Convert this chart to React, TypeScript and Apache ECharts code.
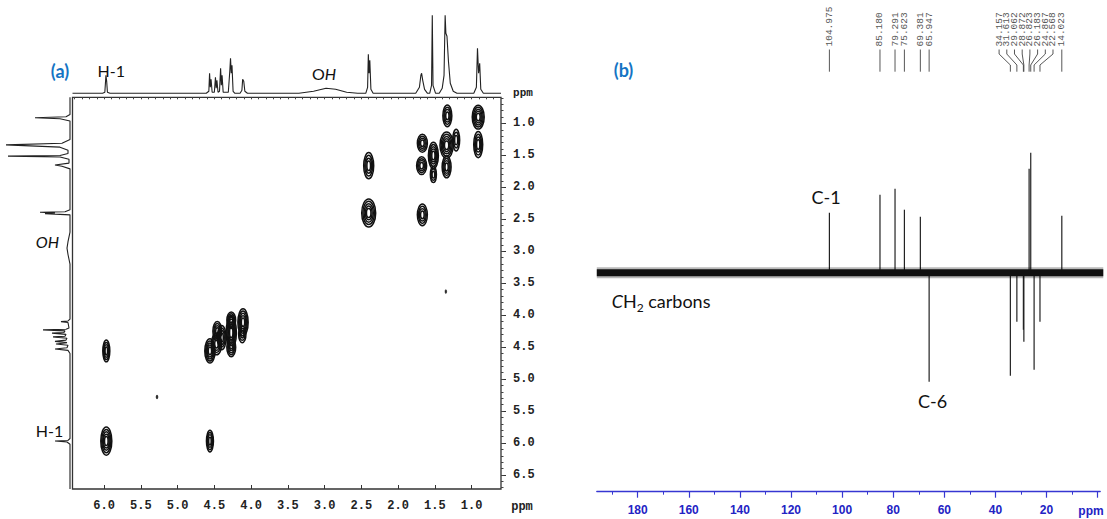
import React, { useEffect, useRef } from "react";
import * as echarts from "echarts";

// ---------- (a) COSY ----------
const COSY_X_TICKS = [6.0, 5.5, 5.0, 4.5, 4.0, 3.5, 3.0, 2.5, 2.0, 1.5, 1.0];
const COSY_Y_TICKS = [1.0, 1.5, 2.0, 2.5, 3.0, 3.5, 4.0, 4.5, 5.0, 5.5, 6.0, 6.5];

// top 1H projection [ppm, intensity]
const TOP_TRACE = [
  [6.43, 0], [6.02, 0], [5.99, 1], [5.975, 18], [5.965, 12], [5.955, 1], [5.92, 0],
  [4.61, 0], [4.575, 2], [4.565, 20], [4.555, 6], [4.545, 14], [4.53, 1],
  [4.5, 1], [4.485, 16], [4.475, 5], [4.465, 13], [4.45, 1],
  [4.43, 2], [4.415, 25], [4.405, 8], [4.395, 18], [4.38, 1],
  [4.31, 1], [4.29, 22], [4.28, 35], [4.27, 20], [4.26, 28], [4.245, 2], [4.22, 0],
  [4.15, 0], [4.125, 3], [4.115, 14], [4.1, 12], [4.085, 2], [4.05, 0],
  [3.35, 0], [3.15, 2], [2.98, 5], [2.85, 4], [2.7, 1], [2.55, 0],
  [2.44, 0], [2.415, 6], [2.405, 39], [2.395, 20], [2.385, 33], [2.37, 4], [2.34, 0],
  [1.76, 0], [1.71, 6], [1.69, 18], [1.68, 20], [1.665, 13], [1.64, 4], [1.6, 0],
  [1.57, 0], [1.545, 8], [1.535, 78], [1.525, 8], [1.49, 0],
  [1.44, 0], [1.4, 5], [1.375, 18], [1.36, 78], [1.35, 60], [1.335, 57], [1.315, 32], [1.29, 10], [1.25, 2], [1.2, 0],
  [0.97, 0], [0.935, 6], [0.92, 45], [0.905, 20], [0.89, 30], [0.875, 4], [0.84, 0],
  [0.6, 0],
];

// left 1H projection [ppm, intensity]
const LEFT_TRACE = [
  [0.59, 0], [0.86, 0], [0.895, 4], [0.91, 35], [0.925, 10], [0.96, 0],
  [1.25, 0], [1.31, 8], [1.335, 64], [1.35, 40], [1.37, 10], [1.42, 2], [1.47, 2],
  [1.5, 10], [1.51, 62], [1.525, 10], [1.56, 1], [1.62, 1], [1.65, 15], [1.67, 8], [1.71, 0],
  [2.35, 0], [2.38, 5], [2.39, 30], [2.4, 15], [2.41, 25], [2.43, 0],
  [2.7, 0], [2.85, 2], [2.95, 3], [3.05, 2], [3.2, 0],
  [4.06, 0], [4.09, 2], [4.1, 9], [4.115, 2], [4.2, 1], [4.22, 4], [4.23, 27], [4.245, 5],
  [4.27, 6], [4.28, 18], [4.3, 4], [4.33, 5], [4.34, 17], [4.36, 3], [4.39, 4], [4.41, 15],
  [4.43, 3], [4.45, 14], [4.47, 2], [4.51, 3], [4.53, 15], [4.55, 2], [4.6, 0],
  [5.93, 0], [5.96, 2], [5.97, 15], [5.985, 3], [6.02, 0],
  [6.72, 0],
];

// cross peaks [F2 ppm, F1 ppm, width F2 (ppm), width F1 (ppm), contour levels]
const COSY_PEAKS = [
  [0.91, 0.9, 0.163, 0.375, 5],
  [0.91, 1.33, 0.122, 0.41, 4],
  [1.33, 0.88, 0.122, 0.34, 4],
  [1.34, 1.34, 0.18, 0.41, 5],
  [1.34, 1.68, 0.122, 0.34, 4],
  [1.21, 1.26, 0.095, 0.34, 3],
  [1.52, 1.5, 0.136, 0.41, 5],
  [1.52, 1.8, 0.082, 0.25, 3],
  [1.67, 1.31, 0.136, 0.28, 4],
  [1.68, 1.66, 0.136, 0.28, 4],
  [1.67, 2.43, 0.136, 0.34, 4],
  [2.4, 1.66, 0.136, 0.41, 4],
  [2.4, 2.4, 0.19, 0.44, 5],
  [1.35, 3.63, 0.02, 0.06, 1],
  [5.28, 5.28, 0.022, 0.06, 1],
  [5.97, 5.97, 0.15, 0.44, 5],
  [5.97, 4.56, 0.095, 0.34, 4],
  [4.56, 5.97, 0.095, 0.34, 4],
  [4.56, 4.56, 0.14, 0.38, 5],
  [4.47, 4.45, 0.14, 0.34, 4],
  [4.46, 4.25, 0.12, 0.3, 4],
  [4.4, 4.35, 0.12, 0.38, 4],
  [4.27, 4.27, 0.14, 0.5, 5],
  [4.27, 4.5, 0.12, 0.3, 4],
  [4.27, 4.08, 0.12, 0.26, 4],
  [4.11, 4.11, 0.14, 0.42, 5],
  [4.12, 4.3, 0.1, 0.26, 3],
];

// ---------- (b) DEPT-135 ----------
const DEPT_TICKS = [180, 160, 140, 120, 100, 80, 60, 40, 20];
const DEPT_SHIFTS = [104.975, 85.18, 79.291, 75.623, 69.381, 65.947, 34.157, 31.613, 29.062, 28.872, 26.823, 26.183, 24.867, 22.568, 14.023];
const DEPT_INTENSITY = [60, 78, 84, 63, 56, -109, -103, -49, -57, -69, 104, 120, -97, -49, 57];

const steps = (a: number, b: number, s: number) => {
  const r: number[] = [];
  for (let v = a; v <= b + 1e-9; v += s) r.push(Math.round(v * 1000) / 1000);
  return r;
};

const LABEL_GAP = 7.7;
function spread(xs: number[]): number[] {
  let groups = xs.map((x, i) => ({ s: i, e: i, c: x }));
  let changed = true;
  while (changed) {
    changed = false;
    for (let g = 0; g < groups.length - 1; g++) {
      const a = groups[g];
      const b = groups[g + 1];
      const aR = a.c + ((a.e - a.s) * LABEL_GAP) / 2;
      const bL = b.c - ((b.e - b.s) * LABEL_GAP) / 2;
      if (bL - aR < LABEL_GAP - 1e-6) {
        let sum = 0;
        for (let k = a.s; k <= b.e; k++) sum += xs[k];
        groups.splice(g, 2, { s: a.s, e: b.e, c: sum / (b.e - a.s + 1) });
        changed = true;
        break;
      }
    }
  }
  const out: number[] = new Array(xs.length);
  groups.forEach((g) => {
    const n = g.e - g.s;
    for (let k = g.s; k <= g.e; k++) out[k] = g.c + (k - g.s - n / 2) * LABEL_GAP;
  });
  return out;
}

const MONO = '"Liberation Mono", "DejaVu Sans Mono", monospace';
const SANS = 'Lato, "Open Sans", sans-serif';
const BLUE_LBL = "#1474c4";
const DEPT_BLUE = "#3636d2";

function txt(x: number, y: number, text: string, font: string, fill = "#111", align = "center", rich?: any) {
  const style: any = { text, font, fill, align, textAlign: align, verticalAlign: "middle", textVerticalAlign: "middle" };
  if (rich) style.rich = rich;
  return { type: "text", x, y, style, silent: true };
}

export default function App() {
  const ref = useRef<HTMLDivElement>(null);
  useEffect(() => {
    document.body.style.margin = "0";
    if (!ref.current) return;
    const chart = echarts.init(ref.current, undefined, { renderer: "svg" });

    const cosyXMin = 0.6, cosyXMax = 6.43, cosyYMin = 0.59, cosyYMax = 6.72;

    const option: any = {
      animation: false,
      backgroundColor: "#ffffff",
      grid: [
        { left: 72.5, top: 97.3, width: 428.5, height: 391.7, show: true, borderColor: "#333", borderWidth: 1.3, backgroundColor: "transparent" },
        { left: 72.5, top: 0, width: 428.5, height: 93.3 },
        { left: 0, top: 97.3, width: 70, height: 391.7 },
        { left: 596.8, top: 142.7, width: 503.4, height: 349 },
      ],
      xAxis: [
        {
          gridIndex: 0, type: "value", min: cosyXMin, max: cosyXMax, inverse: true,
          axisLine: { show: false }, splitLine: { show: false },
          axisTick: { show: true, inside: true, length: 4, customValues: COSY_X_TICKS, lineStyle: { color: "#333", width: 1 } },
          axisLabel: { customValues: COSY_X_TICKS, formatter: (v: number) => v.toFixed(1), margin: 11, fontFamily: MONO, fontWeight: "bold", fontSize: 12, color: "#222" },
        },
        {
          gridIndex: 0, type: "value", min: cosyXMin, max: cosyXMax, inverse: true,
          axisLine: { show: false }, splitLine: { show: false }, axisLabel: { show: false },
          axisTick: { show: true, inside: true, length: 2, customValues: steps(0.7, 6.4, 0.1), lineStyle: { color: "#444", width: 1 } },
        },
        { gridIndex: 1, type: "value", min: cosyXMin, max: cosyXMax, inverse: true, show: false },
        { gridIndex: 2, type: "value", min: 0, max: 70, inverse: true, show: false },
        {
          gridIndex: 3, type: "value", min: -1, max: 196, inverse: true, position: "bottom",
          axisLine: { show: true, onZero: false, lineStyle: { color: DEPT_BLUE, width: 1.3 } },
          splitLine: { show: false },
          axisTick: { show: true, length: 6, customValues: [0, 20, 40, 60, 80, 100, 120, 140, 160, 180], lineStyle: { color: DEPT_BLUE, width: 1.2 } },
          axisLabel: { customValues: DEPT_TICKS, margin: 12, fontFamily: '"Liberation Sans Narrow", "Liberation Sans", Arial, sans-serif', fontWeight: "bold", fontSize: 12, color: "#2323c4" },
        },
        {
          gridIndex: 3, type: "value", min: -1, max: 196, inverse: true, position: "bottom",
          axisLine: { show: false, onZero: false }, splitLine: { show: false }, axisLabel: { show: false },
          axisTick: { show: true, length: 3, customValues: steps(10, 190, 20), lineStyle: { color: DEPT_BLUE, width: 1 } },
        },
      ],
      yAxis: [
        {
          gridIndex: 0, type: "value", min: cosyYMin, max: cosyYMax, inverse: true, position: "right",
          axisLine: { show: false }, splitLine: { show: false },
          axisTick: { show: true, inside: false, length: 5, customValues: COSY_Y_TICKS, lineStyle: { color: "#333", width: 1 } },
          axisLabel: { customValues: COSY_Y_TICKS, formatter: (v: number) => v.toFixed(1), margin: 12, fontFamily: MONO, fontWeight: "bold", fontSize: 12, color: "#222" },
        },
        {
          gridIndex: 0, type: "value", min: cosyYMin, max: cosyYMax, inverse: true, position: "right",
          axisLine: { show: false }, splitLine: { show: false }, axisLabel: { show: false },
          axisTick: { show: true, inside: false, length: 2.5, customValues: steps(0.6, 6.7, 0.1), lineStyle: { color: "#444", width: 1 } },
        },
        { gridIndex: 1, type: "value", min: 0, max: 93.3, show: false },
        { gridIndex: 2, type: "value", min: cosyYMin, max: cosyYMax, inverse: true, show: false },
        { gridIndex: 3, type: "value", min: -219, max: 130, show: false },
      ],
      series: [
        {
          type: "custom", xAxisIndex: 0, yAxisIndex: 0, clip: true, data: COSY_PEAKS,
          renderItem: (params: any, api: any) => {
            const x = api.value(0), y = api.value(1);
            const c = api.coord([x, y]);
            const s = api.size([api.value(2), api.value(3)], [x, y]);
            const n = api.value(4);
            const rx = s[0] / 2, ry = s[1] / 2;
            const children: any[] = [];
            if (n <= 1) {
              children.push({ type: "ellipse", shape: { cx: c[0], cy: c[1], rx, ry }, style: { fill: "#111", stroke: "#111", lineWidth: 0.6 } });
            } else {
              for (let i = 0; i < n; i++) {
                const f = 1 - (i / n) * 0.85;
                children.push({ type: "ellipse", shape: { cx: c[0], cy: c[1], rx: rx * f, ry: ry * f }, style: { fill: "none", stroke: "#111", lineWidth: 1.5 } });
              }
            }
            return { type: "group", children };
          },
        },
        {
          type: "line", xAxisIndex: 2, yAxisIndex: 2, data: TOP_TRACE, symbol: "none", clip: false,
          lineStyle: { color: "#222", width: 1.1 },
        },
        {
          type: "line", xAxisIndex: 3, yAxisIndex: 3, data: LEFT_TRACE.map((p) => [p[1], p[0]]), symbol: "none", clip: false,
          lineStyle: { color: "#222", width: 1.1 },
        },
        {
          type: "line", xAxisIndex: 4, yAxisIndex: 4, data: [[196, 0], [-2.2, 0]], symbol: "none", clip: false,
          lineStyle: { color: "rgba(0,0,0,0.28)", width: 11 }, silent: true,
        },
        {
          type: "line", xAxisIndex: 4, yAxisIndex: 4, data: [[196, 0], [-2.2, 0]], symbol: "none", clip: false,
          lineStyle: { color: "#111", width: 7 }, silent: true,
        },
        {
          type: "custom", xAxisIndex: 4, yAxisIndex: 4, clip: false,
          data: DEPT_SHIFTS.map((s, i) => [s, DEPT_INTENSITY[i]]),
          renderItem: (params: any, api: any) => {
            const p0 = api.coord([api.value(0), 0]);
            const p1 = api.coord([api.value(0), api.value(1)]);
            return { type: "line", shape: { x1: p0[0], y1: p0[1], x2: p1[0], y2: p1[1] }, style: { stroke: "#222", lineWidth: 1.2 } };
          },
        },
        {
          type: "custom", xAxisIndex: 4, yAxisIndex: 4, clip: false,
          data: DEPT_SHIFTS.map((s, i) => [s, DEPT_INTENSITY[i]]),
          renderItem: (params: any, api: any) => {
            const xs = DEPT_SHIFTS.map((s) => api.coord([s, 0])[0]);
            const lx = spread(xs);
            const i = params.dataIndex;
            const px = xs[i], l = lx[i];
            return {
              type: "group",
              children: [
                { type: "polyline", shape: { points: [[l, 49.5], [l, 54], [px, 65], [px, 71.7]] }, style: { stroke: "#444", lineWidth: 0.9, fill: "none" } },
                {
                  type: "text", x: l, y: 46.5, rotation: Math.PI / 2,
                  style: { text: DEPT_SHIFTS[i].toFixed(3), fill: "#555", font: `9.5px ${MONO}`, align: "left", textAlign: "left", verticalAlign: "middle", textVerticalAlign: "middle" },
                },
              ],
            };
          },
        },
      ],
      graphic: [
        txt(60, 71, "(a)", `bold 18px ${SANS}`, BLUE_LBL),
        txt(111.3, 70, "H-1", `16px ${SANS}`),
        txt(324, 73, "{o|O}{h|H}", `16px ${SANS}`, "#111", "center", {
          o: { font: `16px ${SANS}`, fill: "#111" },
          h: { font: `italic 16px ${SANS}`, fill: "#111" },
        }),
        txt(523, 93, "ppm", `bold 11px ${MONO}`, "#222"),
        txt(47.5, 241.7, "{o|O}{h|H}", `16px ${SANS}`, "#111", "center", {
          o: { font: `italic 16px ${SANS}`, fill: "#111" },
          h: { font: `italic 16px ${SANS}`, fill: "#111" },
        }),
        txt(49.5, 430, "H-1", `16px ${SANS}`),
        txt(522, 506.7, "ppm", `bold 12px ${MONO}`, "#222"),
        txt(623.5, 70, "(b)", `bold 18px ${SANS}`, BLUE_LBL),
        txt(826, 197.3, "C-1", `18px ${SANS}`),
        txt(932.5, 400.7, "C-6", `18px ${SANS}`),
        txt(611.7, 301, "{c|C}{n|H}{s|2}{n| carbons}", `18px ${SANS}`, "#111", "left", {
          c: { font: `italic 18px ${SANS}`, fill: "#111", lineHeight: 24, verticalAlign: "middle" },
          n: { font: `18px ${SANS}`, fill: "#111", lineHeight: 24, verticalAlign: "middle" },
          s: { font: `12px ${SANS}`, fill: "#111", lineHeight: 12, verticalAlign: "bottom" },
        }),
        txt(1091, 510.7, "ppm", `bold 12px "Liberation Sans Narrow", "Liberation Sans", Arial, sans-serif`, "#2323c4"),
      ],
    };

    chart.setOption(option);
    return () => chart.dispose();
  }, []);

  return <div ref={ref} style={{ width: 1107, height: 519 }} />;
}
